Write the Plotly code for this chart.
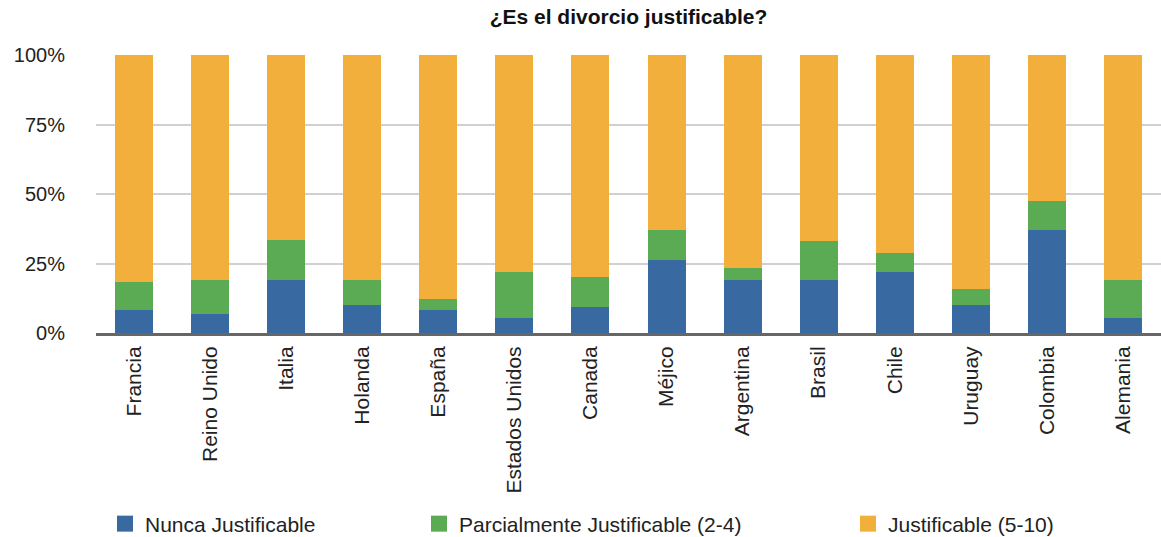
import plotly.graph_objects as go

paises = ["Francia", "Reino Unido", "Italia", "Holanda", "España", "Estados Unidos",
          "Canada", "Méjico", "Argentina", "Brasil", "Chile", "Uruguay", "Colombia", "Alemania"]
nunca = [8.2, 6.7, 19.2, 10.2, 8.2, 5.4, 9.5, 26.2, 19.2, 19.2, 22.0, 10.2, 37.2, 5.4]
parcial = [10.3, 12.5, 14.4, 9.0, 4.0, 16.6, 10.5, 11.0, 4.1, 13.8, 6.9, 5.5, 10.3, 13.8]
justif = [81.5, 80.8, 66.4, 80.8, 87.8, 78.0, 80.0, 62.8, 76.7, 67.0, 71.1, 84.3, 52.5, 80.8]

series_names = ["Nunca Justificable", "Parcialmente Justificable (2-4)", "Justificable (5-10)"]
series_vals = [nunca, parcial, justif]
colors = ["#3869a0", "#5aab54", "#f2af3c"]
y_ticks = [0, 25, 50, 75, 100]
y_ticktext = ["0%", "25%", "50%", "75%", "100%"]

FONT = "Liberation Sans, Arial, Helvetica, sans-serif"
W, H = 1161, 537

fig = go.Figure()
for name, vals, col in zip(series_names, series_vals, colors):
    fig.add_trace(go.Bar(x=paises, y=vals, name=name, marker=dict(color=col, line=dict(width=0)),
                         showlegend=False))

legend_ids = ["legend", "legend2", "legend3"]
legend_x = [105, 419, 848]
for name, col, lid in zip(series_names, colors, legend_ids):
    fig.add_trace(go.Scatter(x=[None], y=[None], mode="markers", name=name,
                             marker=dict(symbol="square", size=22, color=col),
                             legend=lid, showlegend=True))

legend_common = dict(orientation="h", xref="container", yref="container",
                     yanchor="middle", xanchor="left", y=(H - 524) / H,
                     bgcolor="rgba(0,0,0,0)", borderwidth=0,
                     font=dict(family=FONT, size=21, color="#222"))
layout_legends = {}
for lid, lx in zip(legend_ids, legend_x):
    layout_legends[lid] = dict(legend_common, x=lx / W)

fig.update_layout(
    width=W, height=H,
    barmode="stack", bargap=0.5,
    plot_bgcolor="white", paper_bgcolor="white",
    margin=dict(l=96, r=0, t=55, b=204),
    title=dict(text="¿Es el divorcio justificable?", x=0.5, xref="paper", y=1 - 17 / H,
               yanchor="middle", font=dict(family=FONT, size=21, color="#111", weight=700)),
    font=dict(family=FONT, size=20, color="#222"),
    xaxis=dict(tickangle=-90, tickfont=dict(size=21), showgrid=False, automargin=False,
               showline=True, linecolor="#666", linewidth=3, ticks="", ticklabelstandoff=2),
    yaxis=dict(range=[0, 100], tickvals=y_ticks, ticktext=y_ticktext, showgrid=True,
               gridcolor="#d0d0d0", gridwidth=2, zeroline=False, ticks="", automargin=False,
               tickfont=dict(size=20), ticklabelstandoff=30),
    **layout_legends,
)

fig.write_html("out.html", config={"displayModeBar": False},
               post_script="document.body.style.margin='0';")
